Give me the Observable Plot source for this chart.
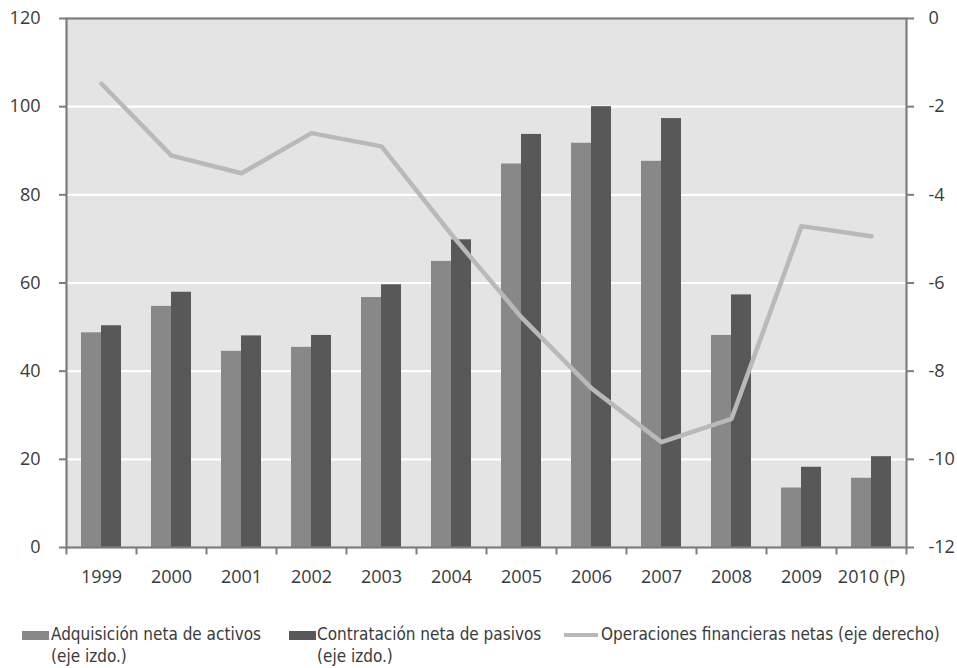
<!DOCTYPE html>
<html>
<head>
<meta charset="utf-8">
<script src="https://cdn.jsdelivr.net/npm/d3@7"></script>
<script src="https://cdn.jsdelivr.net/npm/@observablehq/plot@0.6"></script>
<style>
  body { margin: 0; background: #fff; }
  #legend { position: relative; height: 68px; font-family: "Liberation Sans Narrow", "DejaVu Sans Condensed", "Open Sans", sans-serif; font-size: 17px; color: #3a3a3a; }
  .item { position: absolute; top: 23px; line-height: 22px; }
  .sw { position: absolute; }
</style>
</head>
<body>
<div id="chart"></div>
<div id="legend">
  <div class="sw" style="left:22px;top:31px;width:27px;height:9px;background:#888888"></div>
  <div class="item" style="left:51px">Adquisición neta de activos<br>(eje izdo.)</div>
  <div class="sw" style="left:289px;top:31px;width:27px;height:9px;background:#585858"></div>
  <div class="item" style="left:317px">Contratación neta de pasivos<br>(eje izdo.)</div>
  <div class="sw" style="left:564px;top:33px;width:34px;height:4px;background:#b9b9b9"></div>
  <div class="item" style="left:601px">Operaciones financieras netas (eje derecho)</div>
</div>
<script>
// Years on the horizontal axis
const years = ["1999", "2000", "2001", "2002", "2003", "2004", "2005", "2006", "2007", "2008", "2009", "2010 (P)"];
// Net acquisition of assets (left axis)
const activos = [48.7, 54.7, 44.5, 45.4, 56.7, 64.9, 87.0, 91.7, 87.6, 48.1, 13.5, 15.7];
// Net incurrence of liabilities (left axis)
const pasivos = [50.3, 57.9, 48.0, 48.1, 59.6, 69.8, 93.7, 100.0, 97.3, 57.3, 18.2, 20.6];
// Net financial transactions (right axis)
const netas = [-1.48, -3.11, -3.51, -2.6, -2.9, -4.9, -6.78, -8.39, -9.61, -9.08, -4.71, -4.94];
// Axis ticks
const leftTicks = [0, 20, 40, 60, 80, 100, 120];
const rightTicks = [0, -2, -4, -6, -8, -10, -12];

// Right axis (-12..0) mapped onto the left scale (0..120)
const toLeft = (v) => (v + 12) * 10;
const fromLeft = (d) => d / 10 - 12;

const rows = years.map((year, i) => ({year, activos: activos[i], pasivos: pasivos[i], netas: toLeft(netas[i])}));

const axisColor = "#7d7d7d";
const textColor = "#3a3a3a";

const chart = Plot.plot({
  width: 957,
  height: 600,
  marginTop: 18,
  marginBottom: 53,
  marginLeft: 66,
  marginRight: 51,
  style: {fontFamily: "'Open Sans', sans-serif", fontSize: "18px", color: textColor, background: "#fff"},
  x: {type: "band", domain: years, padding: 0},
  y: {domain: [0, 120]},
  marks: [
    Plot.frame({fill: "#e4e4e4"}),
    Plot.ruleY(leftTicks.filter((d) => d > 0 && d < 120), {stroke: "#fff", strokeWidth: 2.2}),
    Plot.barY(rows, {x: "year", y: "activos", fill: "#888888", insetLeft: 15, insetRight: 35}),
    Plot.barY(rows, {x: "year", y: "pasivos", fill: "#585858", insetLeft: 35, insetRight: 15}),
    Plot.lineY(rows, {x: "year", y: "netas", stroke: "#b9b9b9", strokeWidth: 4.5}),
    Plot.frame({stroke: axisColor, strokeWidth: 2.2}),
    Plot.axisY(leftTicks, {anchor: "left", tickSize: 7, tickPadding: 19, stroke: axisColor, strokeWidth: 2, fill: textColor, fontSize: 18, label: null}),
    Plot.axisY(rightTicks.map(toLeft), {anchor: "right", tickSize: 7, tickPadding: 15, stroke: axisColor, strokeWidth: 2, fill: textColor, fontSize: 18, label: null,
      tickFormat: (d) => { const v = Math.round(fromLeft(d)); return v === 0 ? "0" : "-" + Math.abs(v); }}),
    Plot.axisX({anchor: "bottom", tickSize: 0, tickPadding: 23, fill: textColor, fontSize: 18, label: null}),
    // tick marks between the year bands
    Plot.ruleX(years, {x: (d) => d, dx: -35, y1: 0, y2: -1.7, stroke: axisColor, strokeWidth: 2}),
    Plot.ruleX(years.slice(-1), {x: (d) => d, dx: 35, y1: 0, y2: -1.7, stroke: axisColor, strokeWidth: 2})
  ]
});
document.getElementById("chart").appendChild(chart);
</script>
</body>
</html>
